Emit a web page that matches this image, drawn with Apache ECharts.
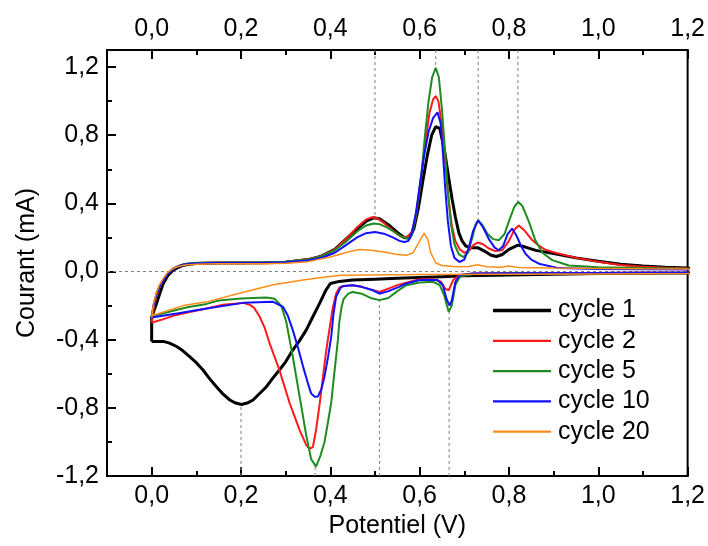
<!DOCTYPE html>
<html><head><meta charset="utf-8">
<script src="https://cdn.jsdelivr.net/npm/echarts@6/dist/echarts.min.js"></script>
<style>html,body{margin:0;padding:0;background:#fff}#c{width:708px;height:546px}</style>
</head><body><div id="c"></div>
<script>
// ---- tick values ----
const xMajorTicks = [0, 0.2, 0.4, 0.6, 0.8, 1.0, 1.2];
const xMinorTicks = [0.1, 0.3, 0.5, 0.7, 0.9, 1.1];
const yMajorTicks = [-1.2, -0.8, -0.4, 0, 0.4, 0.8, 1.2];
const yMinorTicks = [-1.0, -0.6, -0.2, 0.2, 0.6, 1.0];
const seriesNames = ['cycle 1', 'cycle 2', 'cycle 5', 'cycle 10', 'cycle 20'];

// ---- data: [potential (V), current (mA)], traced around each loop ----
const cycle1 = [
  [0, -0.41], [0, -0.27], [0.005, -0.23], [0.011, -0.187], [0.018, -0.13], [0.026, -0.07], [0.036, -0.025],
  [0.048, 0.008], [0.06, 0.025], [0.071, 0.037], [0.085, 0.043], [0.1, 0.047], [0.15, 0.05], [0.2, 0.05],
  [0.25, 0.051], [0.3, 0.055], [0.35, 0.07], [0.38, 0.09], [0.41, 0.13], [0.435, 0.19], [0.46, 0.25],
  [0.48, 0.295], [0.497, 0.315], [0.51, 0.31], [0.53, 0.275], [0.55, 0.23], [0.565, 0.2], [0.577, 0.195],
  [0.587, 0.25], [0.597, 0.37], [0.607, 0.53], [0.617, 0.68], [0.627, 0.8], [0.636, 0.85], [0.645, 0.84],
  [0.655, 0.72], [0.665, 0.55], [0.673, 0.42], [0.68, 0.32], [0.688, 0.225], [0.695, 0.18], [0.703, 0.15],
  [0.715, 0.14], [0.73, 0.14], [0.745, 0.12], [0.76, 0.095], [0.772, 0.088], [0.785, 0.1], [0.8, 0.13],
  [0.82, 0.155], [0.835, 0.145], [0.86, 0.124], [0.9, 0.105], [0.95, 0.08], [1.0, 0.06], [1.05, 0.043],
  [1.1, 0.032], [1.15, 0.025], [1.2, 0.02], [1.245, 0.018],
  [1.245, -0.005], [1.2, -0.008], [1.0, -0.012], [0.8, -0.02], [0.7, -0.025], [0.65, -0.03], [0.6, -0.035],
  [0.55, -0.04], [0.5, -0.045], [0.45, -0.05], [0.42, -0.058], [0.4, -0.07], [0.39, -0.11], [0.376, -0.187],
  [0.36, -0.27], [0.346, -0.344], [0.33, -0.41], [0.316, -0.461], [0.3, -0.53], [0.286, -0.578], [0.27, -0.63],
  [0.257, -0.676], [0.24, -0.72], [0.227, -0.754], [0.214, -0.772], [0.201, -0.78], [0.188, -0.772],
  [0.175, -0.754], [0.16, -0.72], [0.145, -0.676], [0.13, -0.63], [0.115, -0.578], [0.1, -0.535],
  [0.085, -0.5], [0.07, -0.465], [0.056, -0.44], [0.04, -0.42], [0.026, -0.41], [0.01, -0.41], [0, -0.41]
];
const cycle2 = [
  [0, -0.30], [0.004, -0.22], [0.011, -0.14], [0.018, -0.09], [0.026, -0.051], [0.036, -0.01], [0.048, 0.017],
  [0.06, 0.032], [0.071, 0.042], [0.093, 0.05], [0.15, 0.053], [0.2, 0.053], [0.25, 0.054], [0.3, 0.058],
  [0.35, 0.072], [0.38, 0.09], [0.41, 0.13], [0.435, 0.19], [0.46, 0.26], [0.48, 0.305], [0.492, 0.318],
  [0.505, 0.312], [0.52, 0.285], [0.54, 0.24], [0.557, 0.205], [0.57, 0.2], [0.582, 0.23], [0.592, 0.33],
  [0.602, 0.52], [0.612, 0.74], [0.622, 0.93], [0.63, 1.01], [0.636, 1.03], [0.642, 1.0], [0.65, 0.85],
  [0.658, 0.62], [0.665, 0.42], [0.672, 0.27], [0.68, 0.18], [0.69, 0.13], [0.7, 0.11], [0.71, 0.12],
  [0.72, 0.155], [0.73, 0.17], [0.742, 0.16], [0.755, 0.135], [0.77, 0.12], [0.785, 0.125], [0.8, 0.18],
  [0.812, 0.245], [0.822, 0.27], [0.835, 0.24], [0.85, 0.19], [0.865, 0.155], [0.88, 0.13], [0.9, 0.113],
  [0.95, 0.08], [1.0, 0.058], [1.05, 0.038], [1.1, 0.028], [1.15, 0.022], [1.2, 0.017], [1.245, 0.015],
  [1.245, -0.005], [1.2, -0.006], [1.0, -0.008], [0.8, -0.01], [0.72, -0.012], [0.69, -0.02], [0.675, -0.05],
  [0.665, -0.11], [0.657, -0.1], [0.648, -0.06], [0.63, -0.045], [0.6, -0.045], [0.57, -0.065], [0.55, -0.08],
  [0.53, -0.1], [0.51, -0.12], [0.49, -0.105], [0.47, -0.09], [0.45, -0.08], [0.43, -0.085], [0.42, -0.095],
  [0.413, -0.13], [0.405, -0.22], [0.398, -0.34], [0.39, -0.48], [0.383, -0.63], [0.376, -0.78],
  [0.368, -0.93], [0.361, -1.03], [0.353, -1.04], [0.346, -1.017], [0.338, -0.97], [0.331, -0.929],
  [0.32, -0.85], [0.309, -0.773], [0.298, -0.68], [0.286, -0.578], [0.275, -0.5], [0.264, -0.42],
  [0.253, -0.33], [0.242, -0.266], [0.23, -0.215], [0.22, -0.196], [0.205, -0.184], [0.16, -0.195],
  [0.123, -0.217], [0.08, -0.24], [0.048, -0.26], [0.02, -0.285], [0, -0.30]
];
const cycle5 = [
  [0, -0.265], [0.004, -0.2], [0.011, -0.129], [0.018, -0.085], [0.026, -0.051], [0.036, -0.01], [0.048, 0.017],
  [0.06, 0.033], [0.071, 0.042], [0.093, 0.05], [0.15, 0.053], [0.2, 0.053], [0.25, 0.054], [0.3, 0.057],
  [0.35, 0.07], [0.38, 0.088], [0.41, 0.125], [0.435, 0.175], [0.46, 0.235], [0.48, 0.27], [0.497, 0.282],
  [0.51, 0.278], [0.53, 0.255], [0.55, 0.22], [0.565, 0.198], [0.575, 0.195], [0.582, 0.21], [0.59, 0.3],
  [0.598, 0.45], [0.605, 0.6], [0.612, 0.8], [0.62, 1.0], [0.628, 1.14], [0.636, 1.195], [0.643, 1.14],
  [0.65, 0.95], [0.657, 0.7], [0.663, 0.47], [0.67, 0.28], [0.678, 0.16], [0.688, 0.1], [0.698, 0.085],
  [0.708, 0.11], [0.718, 0.2], [0.725, 0.275], [0.731, 0.3], [0.74, 0.275], [0.752, 0.22], [0.765, 0.19],
  [0.777, 0.183], [0.79, 0.22], [0.802, 0.31], [0.812, 0.38], [0.821, 0.408], [0.83, 0.385], [0.845, 0.29],
  [0.859, 0.183], [0.875, 0.11], [0.897, 0.067], [0.934, 0.035], [1.0, 0.025], [1.1, 0.02], [1.2, 0.016],
  [1.245, 0.015],
  [1.245, -0.005], [1.2, -0.008], [1.0, -0.01], [0.8, -0.012], [0.72, -0.015], [0.69, -0.03], [0.68, -0.08],
  [0.672, -0.2], [0.665, -0.236], [0.655, -0.14], [0.645, -0.08], [0.63, -0.06], [0.6, -0.065], [0.57, -0.08],
  [0.55, -0.115], [0.53, -0.155], [0.51, -0.168], [0.49, -0.155], [0.47, -0.13], [0.45, -0.12], [0.44, -0.13],
  [0.43, -0.16], [0.425, -0.21], [0.42, -0.3], [0.417, -0.4], [0.413, -0.5], [0.408, -0.62], [0.402, -0.77],
  [0.395, -0.88], [0.387, -1.0], [0.378, -1.08], [0.368, -1.145], [0.357, -1.1], [0.346, -0.96],
  [0.331, -0.73], [0.316, -0.5], [0.301, -0.29], [0.29, -0.2], [0.275, -0.16], [0.257, -0.153], [0.2, -0.158],
  [0.15, -0.17], [0.123, -0.19], [0.08, -0.21], [0.048, -0.23], [0.02, -0.25], [0, -0.265]
];
const cycle10 = [
  [0, -0.27], [0.004, -0.2], [0.011, -0.129], [0.018, -0.085], [0.026, -0.051], [0.036, -0.012], [0.048, 0.015],
  [0.06, 0.03], [0.071, 0.04], [0.093, 0.047], [0.15, 0.05], [0.2, 0.05], [0.25, 0.051], [0.3, 0.054],
  [0.35, 0.065], [0.383, 0.082], [0.41, 0.11], [0.435, 0.155], [0.46, 0.2], [0.48, 0.225], [0.5, 0.232],
  [0.52, 0.222], [0.54, 0.2], [0.555, 0.18], [0.566, 0.173], [0.575, 0.18], [0.583, 0.23], [0.592, 0.35],
  [0.6, 0.5], [0.61, 0.68], [0.62, 0.82], [0.63, 0.9], [0.64, 0.934], [0.647, 0.87], [0.652, 0.7], [0.657, 0.5],
  [0.663, 0.3], [0.67, 0.15], [0.678, 0.08], [0.689, 0.056], [0.7, 0.07], [0.71, 0.14], [0.72, 0.24],
  [0.731, 0.3], [0.742, 0.26], [0.755, 0.19], [0.768, 0.14], [0.777, 0.125], [0.787, 0.15], [0.797, 0.22],
  [0.807, 0.252], [0.817, 0.21], [0.827, 0.15], [0.837, 0.104], [0.85, 0.07], [0.867, 0.046], [0.911, 0.02],
  [1.0, 0.015], [1.1, 0.013], [1.2, 0.012], [1.245, 0.012],
  [1.245, -0.005], [1.2, -0.006], [1.0, -0.008], [0.8, -0.01], [0.72, -0.012], [0.69, -0.02], [0.68, -0.06],
  [0.672, -0.17], [0.667, -0.2], [0.66, -0.16], [0.652, -0.08], [0.64, -0.05], [0.6, -0.05], [0.57, -0.07],
  [0.554, -0.09], [0.53, -0.115], [0.51, -0.13], [0.495, -0.11], [0.47, -0.09], [0.45, -0.08], [0.43, -0.085],
  [0.424, -0.09], [0.413, -0.148], [0.407, -0.25], [0.402, -0.383], [0.395, -0.5], [0.387, -0.617],
  [0.38, -0.69], [0.372, -0.734], [0.365, -0.735], [0.357, -0.715], [0.348, -0.64], [0.339, -0.558],
  [0.328, -0.45], [0.316, -0.344], [0.305, -0.26], [0.294, -0.207], [0.272, -0.178], [0.205, -0.184],
  [0.123, -0.217], [0.06, -0.245], [0, -0.27]
];
const cycle20 = [
  [0, -0.27], [0.004, -0.19], [0.011, -0.12], [0.018, -0.075], [0.026, -0.04], [0.036, -0.005], [0.048, 0.018],
  [0.06, 0.03], [0.075, 0.038], [0.1, 0.043], [0.15, 0.045], [0.2, 0.045], [0.25, 0.046], [0.3, 0.048],
  [0.35, 0.058], [0.4, 0.085], [0.44, 0.115], [0.465, 0.129], [0.49, 0.125], [0.52, 0.115], [0.55, 0.1],
  [0.57, 0.095], [0.585, 0.11], [0.598, 0.17], [0.61, 0.226], [0.618, 0.19], [0.625, 0.11], [0.636, 0.05],
  [0.65, 0.035], [0.68, 0.028], [0.71, 0.03], [0.73, 0.04], [0.75, 0.028], [0.78, 0.025], [0.8, 0.033],
  [0.82, 0.024], [0.9, 0.02], [1.0, 0.018], [1.1, 0.016], [1.2, 0.015], [1.245, 0.015],
  [1.245, -0.01], [1.2, -0.012], [1.0, -0.014], [0.8, -0.016], [0.6, -0.018], [0.424, -0.022], [0.38, -0.035],
  [0.339, -0.05], [0.272, -0.078], [0.197, -0.127], [0.123, -0.178], [0.071, -0.2], [0.03, -0.235], [0, -0.26]
];
const cycleData = [cycle1, cycle2, cycle5, cycle10, cycle20];
const cycleColors = ['#000000', '#ff1a1a', '#1e8c1e', '#1010ff', '#ff8c1a'];
const cycleWidths = [3, 2, 2, 2, 1.5];

// dashed guide lines: [x, from y, to y]
const guideLines = [
  [0.5, 1.3, 0.315], [0.636, 1.3, 1.195], [0.731, 1.3, 0.30], [0.82, 1.3, 0.408],
  [0.2, -1.2, -0.78], [0.366, -1.2, -1.145], [0.51, -1.2, -0.168], [0.666, -1.2, -0.236]
];
const zeroLine = [[-0.1, 0], [1.2, 0]];

const FONT = "'Liberation Sans', Arial, sans-serif";
const FS = 25;
const fmt = v => Number(v).toFixed(1).replace('.', ',');
const black = '#000';

function xAxisDef(position, major) {
  return {
    type: 'value', min: -0.1, max: 1.2, position: position,
    axisLine: { show: major, onZero: false, lineStyle: { color: black, width: 2 } },
    axisTick: { show: true, inside: true, length: major ? 9 : 5, customValues: major ? xMajorTicks : xMinorTicks,
      lineStyle: { color: black, width: 2 } },
    axisLabel: { show: major, customValues: xMajorTicks, formatter: fmt, fontSize: FS, color: black,
      fontFamily: FONT, margin: 8 },
    splitLine: { show: false },
    name: (major && position === 'bottom') ? 'Potentiel (V)' : '',
    nameLocation: 'middle', nameGap: 37,
    nameTextStyle: { fontSize: FS, color: black, fontFamily: FONT }
  };
}
function yAxisDef(major) {
  return {
    type: 'value', min: -1.2, max: 1.3, position: 'left',
    axisLine: { show: major, onZero: false, lineStyle: { color: black, width: 2 } },
    axisTick: { show: true, inside: true, length: major ? 9 : 5, customValues: major ? yMajorTicks : yMinorTicks,
      lineStyle: { color: black, width: 2 } },
    axisLabel: { show: major, customValues: yMajorTicks, formatter: fmt, fontSize: FS, color: black,
      fontFamily: FONT, margin: 8 },
    splitLine: { show: false },
    name: major ? 'Courant (mA)' : '',
    nameLocation: 'middle', nameGap: 67,
    nameTextStyle: { fontSize: FS, color: black, fontFamily: FONT }
  };
}

const series = [];
const guideStyle = { color: '#808080', width: 1, type: [3, 3] };
series.push({ type: 'line', data: zeroLine, symbol: 'none', silent: true, lineStyle: guideStyle, z: 1 });
guideLines.forEach(g => {
  series.push({ type: 'line', data: [[g[0], g[1]], [g[0], g[2]]], symbol: 'none', silent: true,
    lineStyle: guideStyle, z: 1 });
});
seriesNames.forEach((n, i) => {
  series.push({
    name: n, type: 'line', data: cycleData[i], symbol: 'none', showSymbol: false, clip: false,
    smooth: false, color: cycleColors[i],
    lineStyle: { color: cycleColors[i], width: cycleWidths[i] }, z: 3 + i
  });
});

const legendData = seriesNames.map((n, i) => ({
  name: n,
  icon: i === 0 ? 'path://M0,0H58V3.5H0Z' : 'path://M0,0H58V2.2H0Z'
}));

const chart = echarts.init(document.getElementById('c'), null, { renderer: 'canvas' });
chart.setOption({
  animation: false,
  backgroundColor: '#fff',
  grid: { left: 107, right: 19, top: 50, bottom: 70, show: true, borderColor: black, borderWidth: 2,
    backgroundColor: 'transparent' },
  xAxis: [xAxisDef('bottom', true), xAxisDef('bottom', false), xAxisDef('top', true), xAxisDef('top', false)],
  yAxis: [yAxisDef(true), yAxisDef(false)],
  legend: {
    data: legendData, orient: 'vertical', left: 488, top: 293, padding: 5,
    itemWidth: 58, itemHeight: 14, itemGap: 5.3, symbolKeepAspect: true,
    itemStyle: { borderWidth: 0 },
    textStyle: { fontSize: FS, color: black, fontFamily: FONT, lineHeight: 25, padding: [0, 0, 0, 2] }
  },
  series: series
});
</script></body></html>
